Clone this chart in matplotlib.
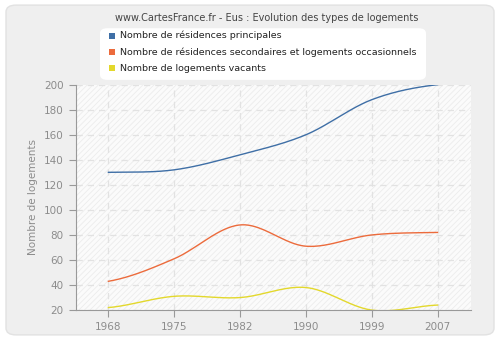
import matplotlib
matplotlib.use('Agg')
import matplotlib.pyplot as plt
from matplotlib.patches import FancyBboxPatch, Rectangle
import numpy as np

years = ['1968', '1975', '1982', '1990', '1999', '2007']
principales = [130, 132, 144, 160, 188, 200]
secondaires = [43, 61, 88, 71, 80, 82]
vacants = [22, 31, 30, 38, 20, 24]

labels = ['Nombre de résidences principales',
          'Nombre de résidences secondaires et logements occasionnels',
          'Nombre de logements vacants']
colors = ['#3f6fa6', '#ec6b3c', '#e3d82c']


def smooth(xs, ys, n=40):
    # catmull-rom (cubic hermite, tangents from the neighbours)
    ys = np.asarray(ys, dtype=float)
    k = len(ys)
    m = np.zeros(k)
    m[1:-1] = (ys[2:] - ys[:-2]) / 2
    m[0] = (ys[1] - ys[0]) / 2
    m[-1] = (ys[-1] - ys[-2]) / 2
    t = np.linspace(0, 1, n)
    h00 = 2 * t**3 - 3 * t**2 + 1
    h10 = t**3 - 2 * t**2 + t
    h01 = -2 * t**3 + 3 * t**2
    h11 = t**3 - t**2
    sx, sy = [], []
    for i in range(k - 1):
        seg = h00 * ys[i] + h10 * m[i] + h01 * ys[i + 1] + h11 * m[i + 1]
        sx.append(xs[i] + t * (xs[i + 1] - xs[i]))
        sy.append(seg)
    return np.concatenate(sx), np.concatenate(sy)


plt.rcParams['hatch.linewidth'] = 0.6
fig = plt.figure(figsize=(5, 3.4), dpi=100)
fig.patch.set_facecolor('white')
bg = FancyBboxPatch((0.012, 0.015), 0.976, 0.97, boxstyle='round,pad=0,rounding_size=0.02',
                    transform=fig.transFigure, facecolor='#efefef', edgecolor='#e2e2e2', lw=1, zorder=-10)
fig.add_artist(bg)

ax = fig.add_axes([0.151, 0.088, 0.79, 0.663])
ax.set_facecolor('#fbfbfb')
ax.add_patch(Rectangle((0, 0), 1, 1, transform=ax.transAxes, facecolor='none',
                       edgecolor='#ececec', hatch='//////', lw=0, zorder=0))

x = np.arange(len(years))
for vals, c in zip([principales, secondaires, vacants], colors):
    sx, sy = smooth(x, vals)
    ax.plot(sx, sy, color=c, lw=1, zorder=3)

ax.set_xlim(-0.5, 5.5)
ax.set_ylim(20, 200)
ax.set_xticks(x)
ax.set_xticklabels(years)
ax.set_yticks(range(20, 201, 20))
ax.grid(True, color='#e2e2e2', linestyle=(0, (5, 4)), lw=0.9)
ax.set_axisbelow(True)
for s in ['top', 'right']:
    ax.spines[s].set_visible(False)
for s in ['left', 'bottom']:
    ax.spines[s].set_color('#999999')
    ax.spines[s].set_zorder(4)
ax.tick_params(colors='#999999', labelcolor='#8c8c8c', labelsize=7.5, length=5, width=0.8)
ax.set_ylabel('Nombre de logements', color='#8c8c8c', fontsize=7.5)

fig.text(0.533, 0.948, 'www.CartesFrance.fr - Eus : Evolution des types de logements',
         ha='center', va='center', fontsize=7, color='#444444')

fig.add_artist(FancyBboxPatch((0.2, 0.765), 0.652, 0.152, boxstyle='round,pad=0,rounding_size=0.015',
                              transform=fig.transFigure, facecolor='white', edgecolor='none', zorder=5))
for i, (lab, c) in enumerate(zip(labels, colors)):
    yy = 0.895 - i * 0.048
    fig.add_artist(Rectangle((0.218, yy - 0.009), 0.012, 0.018, transform=fig.transFigure,
                             facecolor=c, edgecolor='none', zorder=6))
    fig.text(0.24, yy, lab, ha='left', va='center', fontsize=6.8, color='#222222', zorder=7)

fig.savefig('out.png', dpi=100, facecolor=fig.get_facecolor())
